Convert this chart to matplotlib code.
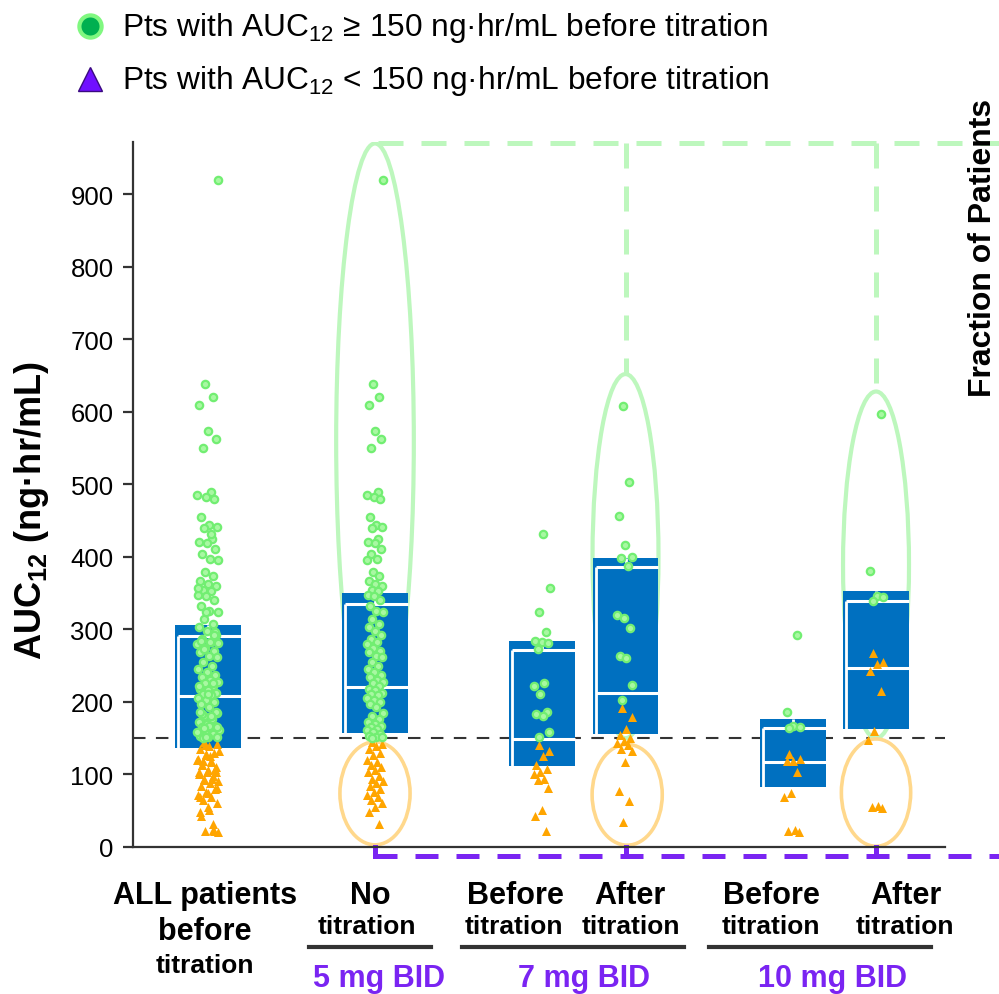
import numpy as np
import matplotlib
matplotlib.use("Agg")
import matplotlib.pyplot as plt
from matplotlib.patches import Ellipse
from matplotlib.lines import Line2D

plt.rcParams['font.family'] = ['Liberation Sans', 'DejaVu Sans']
plt.rcParams['mathtext.fontset'] = 'custom'
plt.rcParams['mathtext.rm'] = 'Liberation Sans'
plt.rcParams['mathtext.bf'] = 'Liberation Sans:bold'

# ---- data (AUC12, ng*hr/mL) ----
no_titr_green = [919, 639, 620, 609, 573, 563, 550, 489, 486, 482, 480, 455, 444, 441, 440,
                 424, 421, 419, 411, 404, 397, 396, 379, 374, 367, 362, 360, 355, 353, 347,
                 346, 340, 332, 325, 324, 314, 308, 303, 298, 292, 287, 283, 280, 275, 270,
                 269, 263, 262, 255, 249, 245, 241, 237, 234, 230, 228, 226, 222, 218, 216,
                 213, 211, 210, 206, 203, 200, 197, 193, 185, 180, 176, 172, 170, 167, 165,
                 163, 161, 158, 156, 153, 152, 151, 150]
no_titr_orange = [145, 142, 139, 135, 130, 127, 120, 117, 113, 110, 106, 103, 98, 94, 91,
                  88, 84, 80, 76, 72, 69, 65, 61, 55, 48, 32]
before7_green = [432, 357, 324, 296, 284, 283, 281, 273, 226, 222, 211, 186, 184, 181, 158, 152]
before7_orange = [141, 133, 126, 113, 108, 103, 101, 94, 93, 81, 51, 43, 22]
after7_green = [608, 503, 457, 416, 400, 398, 387, 320, 316, 302, 263, 260, 223, 203]
after7_orange = [192, 179, 163, 155, 150, 146, 143, 140, 135, 132, 117, 77, 63, 34]
before10_green = [292, 186, 167, 166, 164]
before10_orange = [128, 122, 119, 118, 103, 75, 69, 24, 22, 21]
after10_green = [597, 380, 346, 344, 339]
after10_orange = [267, 255, 252, 243, 215, 160, 147, 57, 55, 54]

# all patients before titration = the three "before" groups together
all_green = no_titr_green + before7_green + before10_green
all_orange = no_titr_orange + before7_orange + before10_orange

positions = [0, 2, 4, 5, 7, 8]
greens = [all_green, no_titr_green, before7_green, after7_green, before10_green, after10_green]
oranges = [all_orange, no_titr_orange, before7_orange, after7_orange, before10_orange, after10_orange]

# box values: bottom, median, Q3, top
box_bottom = [136, 157, 112, 156, 83, 163]
box_median = [208, 220, 149, 212, 117, 247]
box_q3 = [291, 335, 272, 386, 164, 339]
box_top = [306, 350, 284, 399, 176, 353]

threshold = 150

W, H = 999, 995
fig = plt.figure(figsize=(W / 100, H / 100), dpi=100)
ax = fig.add_axes([133 / W, 1 - 848 / H, (945 - 133) / W, (848 - 143) / H])


def fx(px):
    return px / W


def fy(py):
    return 1 - py / H


ax.set_xlim(-0.898, 8.826)
ax.set_ylim(0, 972)

blue = '#0070c0'
bw = 0.79
hw = bw / 2
for pos, b, med, q3, top in zip(positions, box_bottom, box_median, box_q3, box_top):
    ax.bar(pos, top - b, bottom=b, width=bw, color=blue, zorder=2)
    ax.vlines(pos - hw + 0.04, b, q3, color='white', lw=2, zorder=3)
    ax.hlines(q3, pos - hw + 0.04, pos + hw, color='white', lw=2.2, zorder=3)
    ax.hlines(med, pos - hw + 0.04, pos + hw, color='white', lw=2.2, zorder=3)
    ax.vlines(pos, q3, top, color='white', lw=2, zorder=3)

ax.axhline(threshold, color='#333333', lw=1.5, ls=(0, (6, 5)), zorder=1.5)

# ellipses
lgreen = '#bdf7bd'
lorange = '#ffd88c'
for (cx, cy, w, h) in [(2, 560, 0.93, 820), (5, 401, 0.79, 502), (8, 389, 0.79, 478)]:
    ax.add_patch(Ellipse((cx, cy), w, h, fill=False, ec=lgreen, lw=3, zorder=1.8))
for (cx, cy, w, h) in [(2, 74, 0.84, 142), (5.02, 72, 0.84, 139), (8, 75, 0.83, 148)]:
    ax.add_patch(Ellipse((cx, cy), w, h, fill=False, ec=lorange, lw=2.6, zorder=1.8))

# connector lines outside the plot area
ax.plot([2.03, 9.5], [970, 970], color=lgreen, lw=3.6, ls=(0, (5, 3.6)), clip_on=False, zorder=1)
ax.plot([5, 5], [970, 653], color=lgreen, lw=3.6, ls=(0, (5, 3.6)), clip_on=False, zorder=1)
ax.plot([8, 8], [970, 628], color=lgreen, lw=3.6, ls=(0, (5, 3.6)), clip_on=False, zorder=1)

purple = '#7a24f2'
ax.plot([1.99, 9.5], [-12.5, -12.5], color=purple, lw=3.6, ls=(0, (4.6, 3.6)), clip_on=False)
for xp in [2, 5, 8]:
    ax.plot([xp, xp], [0, -12.5], color=purple, lw=3.6, clip_on=False)


def jit(n, amp):
    i = np.arange(n)
    return amp * (((i * 0.618034 + 0.3) % 1) * 2 - 1)


for k, (pos, gv, ov) in enumerate(zip(positions, greens, oranges)):
    amp = 0.13 if k == 0 else 0.1
    ax.scatter(pos + jit(len(ov), amp), ov, marker='^', s=42, c='#ffa500', lw=0, zorder=4)
    ax.scatter(pos + jit(len(gv), amp)[::-1], gv, marker='o', s=28, fc='#a8f8a2',
               ec='#72ee72', lw=1.6, zorder=5)

# axes styling
for s in ['top', 'right']:
    ax.spines[s].set_visible(False)
for s in ['left', 'bottom']:
    ax.spines[s].set_linewidth(1.6)
    ax.spines[s].set_color('#333333')
ax.set_yticks(range(0, 901, 100))
ax.set_xticks([])
ax.tick_params(axis='y', length=7, width=1.6, color='#333333', labelsize=18.5, pad=7)

# y label and side text
fig.text(fx(32), fy(511), r'AUC$_{\mathbf{12}}$ (ng·hr/mL)', rotation=90, fontsize=26,
         fontweight='bold', ha='center', va='center')
fig.text(fx(983), fy(248), 'Fraction of Patients', rotation=90, fontsize=23,
         fontweight='bold', ha='center', va='center')

# legend
fig.add_artist(Line2D([fx(90)], [fy(27)], marker='o', markersize=16, mfc='#00b050',
                      mec='#80f880', mew=3, ls='none', transform=fig.transFigure))
fig.add_artist(Line2D([fx(90)], [fy(80)], marker='^', markersize=17, mfc='#7010ff',
                      mec='#3a0a80', mew=1, ls='none', transform=fig.transFigure))
fig.text(fx(122), fy(28), 'Pts with AUC$_{12}$ ≥ 150 ng·hr/mL before titration',
         fontsize=22.8, va='center')
fig.text(fx(122), fy(81), 'Pts with AUC$_{12}$ < 150 ng·hr/mL before titration',
         fontsize=22.8, va='center')

# category labels
big, small = 22, 19
row1 = [('ALL patients', 205), ('No', 370), ('Before', 515), ('After', 630),
        ('Before', 771), ('After', 906)]
for txt, px in row1:
    fig.text(fx(px), fy(904), txt, fontsize=big, fontweight='bold', ha='center', va='baseline')
fig.text(fx(205), fy(940), 'before', fontsize=big, fontweight='bold', ha='center', va='baseline')
for px in [367, 514, 631, 771, 905]:
    fig.text(fx(px), fy(934), 'titration', fontsize=small, fontweight='bold', ha='center',
             va='baseline')
fig.text(fx(205), fy(973), 'titration', fontsize=small, fontweight='bold', ha='center',
         va='baseline')

for x0, x1 in [(309, 431), (462, 684), (709, 931)]:
    fig.add_artist(Line2D([fx(x0), fx(x1)], [fy(948), fy(948)], color='#333333', lw=3,
                          transform=fig.transFigure))
for txt, px in [('5 mg BID', 379), ('7 mg BID', 584), ('10 mg BID', 832)]:
    fig.text(fx(px), fy(987), txt, fontsize=big, fontweight='bold', color=purple,
             ha='center', va='baseline')

fig.savefig('out.png', dpi=100)
plt.close(fig)
